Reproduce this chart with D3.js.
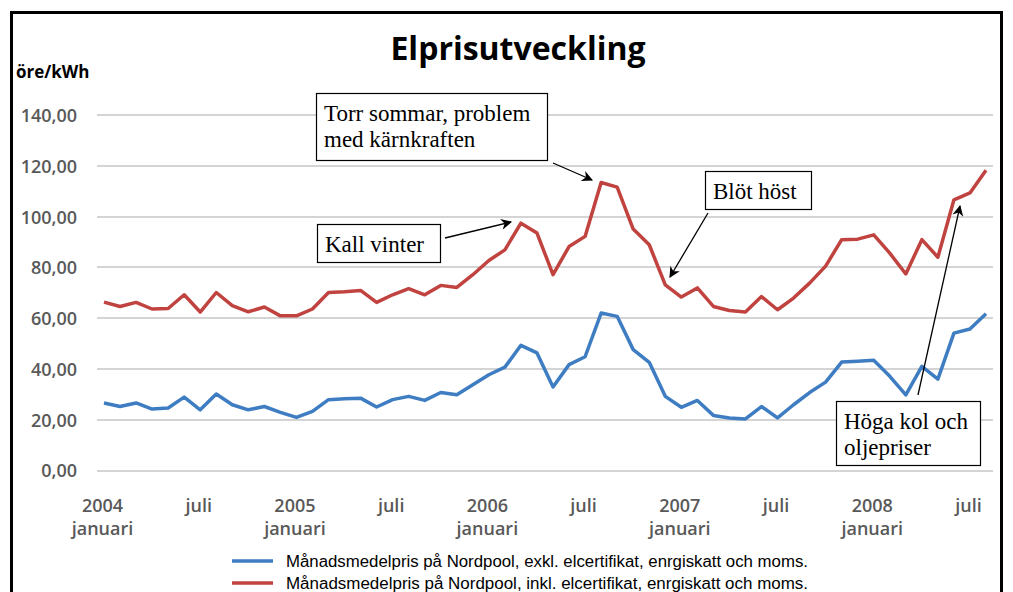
<!DOCTYPE html>
<html>
<head>
    <meta charset="UTF-8">
    <title>Elprisutveckling</title>
    <script src="https://cdn.jsdelivr.net/npm/d3@7"></script>
    <style>
        body{
            padding: 0;
            margin: 0;
            background: #fff;
        }
        .grid line{
            stroke: #d4d4d4;
            stroke-width: 2px;
            shape-rendering: crispEdges;
        }
        .tick-label{
            font-family: "Open Sans", sans-serif;
            font-weight: 600;
            font-size: 18px;
            fill: #595959;
        }
        .note rect{
            fill: #fff;
            stroke: #000;
            stroke-width: 1.2px;
        }
        .note text{
            font-family: "Liberation Serif", "Times New Roman", serif;
            font-size: 23px;
            fill: #000;
        }
    </style>
</head>
<body>
<div class="chart"></div>

<script>
    // månader jan 2004 - aug 2008
    var months = [];
    for (var y = 2004; y <= 2008; y++) {
        for (var m = 1; m <= 12; m++) {
            if (y === 2008 && m > 8) break;
            months.push(y + "-" + (m < 10 ? "0" + m : m));
        }
    }

    // exkl. elcertifikat, energiskatt och moms
    var exkl = [26.6, 25.2, 26.6, 24.2, 24.6, 28.9, 23.9, 30.1, 25.9, 23.9, 25.2, 22.9,
                20.9, 23.3, 27.9, 28.3, 28.5, 25.0, 27.9, 29.2, 27.6, 30.7, 29.8, 33.8,
                37.7, 40.7, 49.3, 46.3, 32.9, 41.7, 44.8, 62.0, 60.7, 47.6, 42.6, 29.2,
                24.9, 27.6, 21.7, 20.7, 20.3, 25.2, 20.7, 25.9, 30.7, 34.8, 42.7, 43.0,
                43.4, 37.1, 29.8, 41.0, 36.0, 54.1, 55.7, 61.7];

    // inkl. elcertifikat, energiskatt och moms
    var inkl = [66.3, 64.6, 66.2, 63.6, 63.8, 69.2, 62.4, 70.1, 64.9, 62.5, 64.4, 60.9,
                60.9, 63.6, 70.1, 70.4, 70.9, 66.2, 69.2, 71.6, 69.2, 72.9, 72.1, 77.1,
                82.7, 86.9, 97.4, 93.5, 77.1, 88.2, 92.2, 113.4, 111.6, 95.1, 88.9, 73.1,
                68.3, 71.9, 64.6, 63.0, 62.4, 68.5, 63.3, 67.9, 73.8, 80.5, 90.9, 91.1,
                92.8, 85.6, 77.4, 90.9, 84.0, 106.6, 109.3, 118.2];

    var yTicks = [0, 20, 40, 60, 80, 100, 120, 140];
    var xTickMonths = ["2004-01", "2004-07", "2005-01", "2005-07", "2006-01", "2006-07",
                       "2007-01", "2007-07", "2008-01", "2008-07"];
    var xTickTop = ["2004", "juli", "2005", "juli", "2006", "juli", "2007", "juli", "2008", "juli"];
    var xTickBottom = ["januari", "", "januari", "", "januari", "", "januari", "", "januari", ""];

    var legendLabels = [
        "Månadsmedelpris på Nordpool, exkl. elcertifikat, enrgiskatt och moms.",
        "Månadsmedelpris på Nordpool, inkl. elcertifikat, enrgiskatt och moms."
    ];
    var colors = ["#3f7dc2", "#c0433f"];

    var notes = [
        {lines: ["Torr sommar, problem", "med kärnkraften"], x: 316, y: 93, w: 231, h: 67,
            from: [553, 163], to: [592, 180]},
        {lines: ["Kall vinter"], x: 317, y: 224, w: 123, h: 38,
            from: [445, 238], to: [511, 222]},
        {lines: ["Blöt höst"], x: 705, y: 171, w: 106, h: 38,
            from: [708, 213], to: [670, 277]},
        {lines: ["Höga kol och", "oljepriser"], x: 836, y: 401, w: 144, h: 64,
            from: [918, 395], to: [960, 206]}
    ];

    var width = 1013, height = 592;

    var svg = d3.select(".chart")
        .append("svg")
        .attr("width", width)
        .attr("height", height);

    svg.append("defs").append("marker")
        .attr("id", "arrow")
        .attr("viewBox", "0 0 10 10")
        .attr("refX", 9)
        .attr("refY", 5)
        .attr("markerWidth", 13)
        .attr("markerHeight", 11)
        .attr("markerUnits", "userSpaceOnUse")
        .attr("orient", "auto")
        .append("path")
        .attr("d", "M0,0 L10,5 L0,10 L3,5 Z")
        .attr("fill", "#000");

    // ram
    svg.append("rect")
        .attr("x", 11.5)
        .attr("y", 12.5)
        .attr("width", 990)
        .attr("height", 620)
        .attr("fill", "none")
        .attr("stroke", "#000")
        .attr("stroke-width", 3);

    var x = d3.scalePoint()
        .domain(months)
        .range([104, 986]);

    var yScale = d3.scaleLinear()
        .domain([0, 140])
        .range([470.5, 115]);

    var fmt = function(d){ return d3.format(".2f")(d).replace(".", ","); };

    // rutnät
    svg.append("g")
        .attr("class", "grid")
        .selectAll("line")
        .data(yTicks)
        .enter()
        .append("line")
        .attr("x1", 97)
        .attr("x2", 993)
        .attr("y1", function(d){ return Math.round(yScale(d)); })
        .attr("y2", function(d){ return Math.round(yScale(d)); });

    // y-axel
    var yAxis = d3.axisLeft(yScale)
        .tickValues(yTicks)
        .tickFormat(fmt)
        .tickSize(0)
        .tickPadding(0);

    var gy = svg.append("g")
        .attr("transform", "translate(77,0)")
        .call(yAxis);
    gy.select(".domain").remove();
    gy.selectAll("text")
        .attr("class", "tick-label")
        .attr("font-family", null)
        .attr("font-size", null)
        .attr("fill", null)
        .attr("dy", "0.36em");

    // x-axel
    var xAxis = d3.axisBottom(x)
        .tickValues(xTickMonths)
        .tickFormat(function(d, i){ return xTickTop[i]; })
        .tickSize(0)
        .tickPadding(0);

    var gx = svg.append("g")
        .attr("transform", "translate(-2,512)")
        .call(xAxis);
    gx.select(".domain").remove();
    gx.selectAll("text")
        .attr("class", "tick-label")
        .attr("font-family", null)
        .attr("font-size", null)
        .attr("fill", null)
        .attr("dy", 0);
    gx.selectAll(".tick")
        .append("text")
        .attr("class", "tick-label")
        .attr("text-anchor", "middle")
        .attr("y", 23)
        .text(function(d, i){ return xTickBottom[i]; });

    // linjer
    var line = d3.line()
        .x(function(d, i){ return x(months[i]); })
        .y(function(d){ return yScale(d); });

    svg.selectAll(".serie")
        .data([exkl, inkl])
        .enter()
        .append("path")
        .attr("class", "serie")
        .attr("d", line)
        .attr("fill", "none")
        .attr("stroke", function(d, i){ return colors[i]; })
        .attr("stroke-width", 3.5)
        .attr("stroke-linejoin", "round");

    // titel
    svg.append("text")
        .attr("x", 518)
        .attr("y", 60)
        .attr("text-anchor", "middle")
        .attr("font-family", "Open Sans, sans-serif")
        .attr("font-weight", 700)
        .attr("font-size", 32)
        .attr("fill", "#000")
        .text("Elprisutveckling");

    svg.append("text")
        .attr("x", 16)
        .attr("y", 78)
        .attr("font-family", "Open Sans, sans-serif")
        .attr("font-weight", 700)
        .attr("font-size", 17)
        .attr("fill", "#000")
        .text("öre/kWh");

    // förklaring
    var leg = svg.selectAll(".leg")
        .data(legendLabels)
        .enter()
        .append("g")
        .attr("class", "leg")
        .attr("transform", function(d, i){ return "translate(232," + (561 + i * 22) + ")"; });

    leg.append("line")
        .attr("x1", 0)
        .attr("x2", 41)
        .attr("stroke", function(d, i){ return colors[i]; })
        .attr("stroke-width", 3.5);

    leg.append("text")
        .attr("x", 54)
        .attr("y", 6)
        .attr("font-family", "Liberation Sans, Arial, sans-serif")
        .attr("font-size", 16)
        .attr("textLength", 522)
        .attr("lengthAdjust", "spacingAndGlyphs")
        .attr("fill", "#000")
        .text(function(d){ return d; });

    // kommentarer
    var note = svg.selectAll(".note")
        .data(notes)
        .enter()
        .append("g")
        .attr("class", "note");

    note.append("rect")
        .attr("x", function(d){ return d.x + 0.5; })
        .attr("y", function(d){ return d.y + 0.5; })
        .attr("width", function(d){ return d.w; })
        .attr("height", function(d){ return d.h; });

    note.each(function(d){
        var g = d3.select(this);
        d.lines.forEach(function(t, j){
            g.append("text")
                .attr("x", d.x + 8)
                .attr("y", d.y + 28 + j * 26)
                .text(t);
        });
    });

    note.append("line")
        .attr("x1", function(d){ return d.from[0]; })
        .attr("y1", function(d){ return d.from[1]; })
        .attr("x2", function(d){ return d.to[0]; })
        .attr("y2", function(d){ return d.to[1]; })
        .attr("stroke", "#000")
        .attr("stroke-width", 1.3)
        .attr("marker-end", "url(#arrow)");
</script>
</body>
</html>
